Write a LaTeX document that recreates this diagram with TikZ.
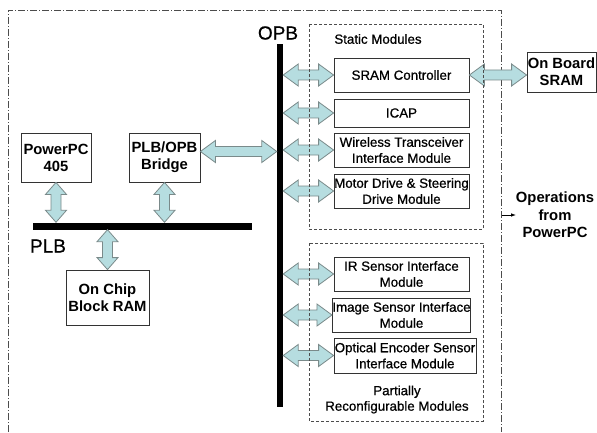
\documentclass[tikz,border=0pt]{standalone}
\usepackage{fontspec}
\setmainfont{Liberation Sans}
\newfontfamily\heavyfont[BoldFont={Liberation Sans}, BoldFeatures={FakeBold=0.7}]{Liberation Sans}
\usetikzlibrary{calc}
\definecolor{arrowfill}{HTML}{B6DDE0}
\definecolor{arrowline}{HTML}{7A8A8A}
\tikzset{
  modbox/.style={draw=black!80, line width=0.8pt, fill=white, minimum width=135pt, minimum height=34pt, inner sep=0pt, align=center, font=\fontsize{13.3}{16}\heavyfont\bfseries},
  bigbox/.style={draw=black!80, line width=0.8pt, fill=white, inner sep=0pt, align=center, font=\fontsize{14.8}{17}\selectfont\bfseries},
  biglabel/.style={inner sep=0pt, align=center, font=\fontsize{14.8}{17.5}\selectfont\bfseries},
  buslabel/.style={inner sep=0pt, font=\fontsize{19}{22}\heavyfont\bfseries},
  smalllabel/.style={inner sep=0pt, align=center, font=\fontsize{13.3}{15.5}\heavyfont\bfseries},
  bar/.style={fill=black, inner sep=0pt},
  blockarrow/.style={fill=arrowfill, draw=arrowline, line width=0.8pt, line join=miter},
  region/.style={draw=black!70, dash pattern=on 3pt off 2pt, line width=0.6pt},
  outerframe/.style={draw=black!70, dash pattern=on 7pt off 2pt on 1pt off 2pt, line width=0.6pt},
}
\newcommand\hbarrow[2]{\draw[blockarrow] let \p1=#1, \p2=#2 in
  (\x1,\y1) -- (\x1+15pt,\y1+11pt) -- (\x1+15pt,\y1+5pt) -- (\x2-15pt,\y1+5pt) -- (\x2-15pt,\y1+11pt)
  -- (\x2,\y1) -- (\x2-15pt,\y1-11pt) -- (\x2-15pt,\y1-5pt) -- (\x1+15pt,\y1-5pt) -- (\x1+15pt,\y1-11pt) -- cycle;}
\newcommand\vbarrow[2]{\draw[blockarrow] let \p1=#1, \p2=#2 in
  (\x1,\y1) -- (\x1+10.5pt,\y1-12pt) -- (\x1+5pt,\y1-12pt) -- (\x1+5pt,\y2+12pt) -- (\x1+10.5pt,\y2+12pt)
  -- (\x1,\y2) -- (\x1-10.5pt,\y2+12pt) -- (\x1-5pt,\y2+12pt) -- (\x1-5pt,\y1-12pt) -- (\x1-10.5pt,\y1-12pt) -- cycle;}
\begin{document}
\begin{tikzpicture}[x=1pt,y=1pt]
\useasboundingbox (0,0) rectangle (597,432);
% outer frame
\draw[outerframe] (8,0) -- (8,422) -- (501,422) -- (501,0);
% buses
\node[bar, minimum width=6pt, minimum height=363pt] (opb) at (280,206.5) {};
\node[buslabel] (opblabel) at (278,399) {OPB};
\node[bar, minimum width=219pt, minimum height=7pt] (plb) at (142.5,206) {};
\node[buslabel] (plblabel) at (48,186) {PLB};
% left boxes
\node[bigbox, minimum width=70pt, minimum height=49pt] (ppc) at (56,274.5) {PowerPC\\405};
\node[bigbox, minimum width=71pt, minimum height=49pt] (bridge) at (164.5,274.5) {PLB/OPB\\Bridge};
\node[bigbox, minimum width=83pt, minimum height=55pt] (bram) at (107.5,134.5) {On Chip\\Block RAM};
% modules
\node[modbox] (sram) at (401.5,357) {SRAM Controller};
\node[modbox, minimum height=28pt] (icap) at (401.5,319) {ICAP};
\node[modbox] (wireless) at (401.5,282) {Wireless Transceiver\\Interface Module};
\node[modbox] (motor) at (401.5,241) {Motor Drive \& Steering\\Drive Module};
\node[modbox] (ir) at (401.5,158) {IR Sensor Interface\\Module};
\node[modbox] (image) at (401.5,117) {Image Sensor Interface\\Module};
\node[modbox, minimum width=142pt, minimum height=35pt] (optical) at (405,76.5) {Optical Encoder Sensor\\Interface Module};
\node[bigbox, minimum width=69pt, minimum height=40pt] (onboard) at (561.5,360) {On Board\\SRAM};
% labels
\node[smalllabel] (staticlabel) at (378,393) {Static Modules};
\node[smalllabel] (prlabel) at (397,32.5) {Partially\\Reconfigurable Modules};
\node[biglabel] (ops) at (555,217) {Operations\\from\\PowerPC};
% block arrows
\vbarrow{(ppc.south)}{(ppc.south |- plb.north)}
\vbarrow{(bridge.south)}{(bridge.south |- plb.north)}
\vbarrow{(bram.north |- plb.south)}{(bram.north)}
\hbarrow{($(bridge.east)+(0,6)$)}{($(opb.west |- bridge.east)+(0,6)$)}
\hbarrow{(opb.east |- sram.west)}{(sram.west)}
\hbarrow{(opb.east |- icap.west)}{(icap.west)}
\hbarrow{(opb.east |- wireless.west)}{(wireless.west)}
\hbarrow{(opb.east |- motor.west)}{(motor.west)}
\hbarrow{(opb.east |- ir.west)}{(ir.west)}
\hbarrow{(opb.east |- image.west)}{(image.west)}
\hbarrow{(opb.east |- optical.west)}{(optical.west)}
\hbarrow{(sram.east)}{(onboard.west |- sram.east)}
% dashed regions
\draw[region] (309,408) rectangle (483,203);
\draw[region] (309,189) rectangle (483,11);
% small arrow
\coordinate (opsstart) at (501.5,217);
\draw[-latex, line width=0.6pt] (opsstart) -- (ops.west |- opsstart);
\end{tikzpicture}
\end{document}
